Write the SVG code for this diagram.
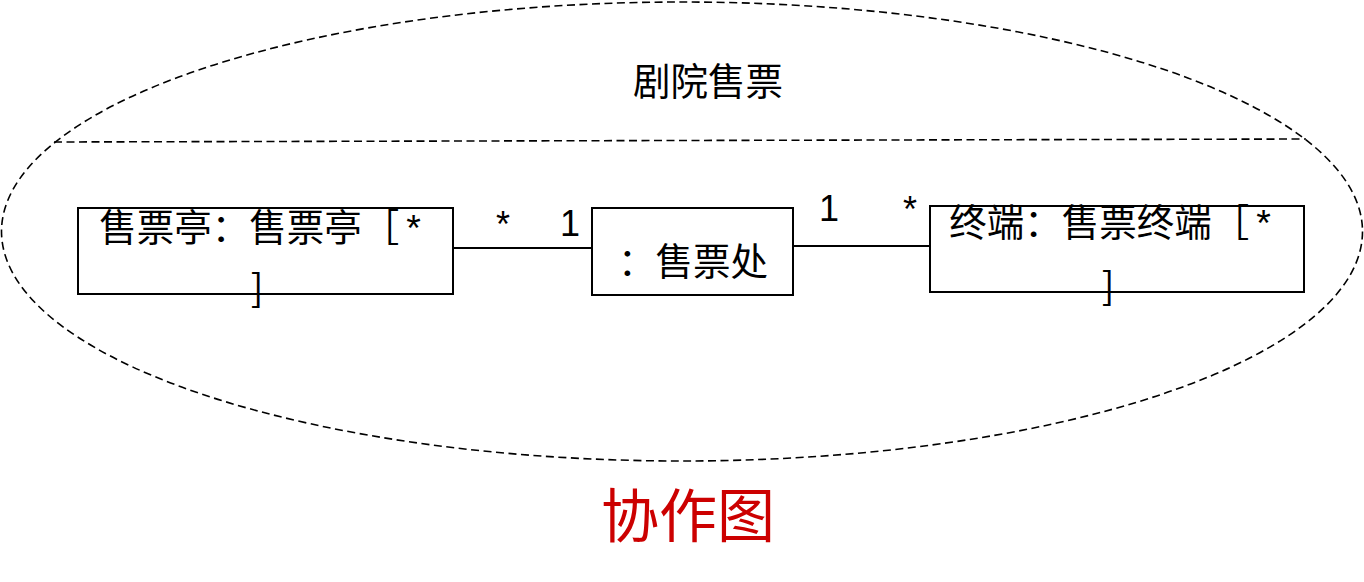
<svg xmlns="http://www.w3.org/2000/svg" width="1364" height="582" viewBox="0 0 1364 582">
<style>
text{font-family:"Noto Sans CJK SC","Liberation Sans",sans-serif;fill:#000}
.t{font-size:37.5px;text-anchor:middle}
.box{fill:#fff;stroke:#000;stroke-width:2}
.dash{fill:none;stroke:#000;stroke-width:1.6;stroke-dasharray:8 4.5}
.conn{stroke:#000;stroke-width:2;fill:none}
.m{font-family:"Liberation Sans",sans-serif;font-size:36px;text-anchor:middle}
.a{font-family:"Liberation Sans",sans-serif}
</style>
<rect width="1364" height="582" fill="#fff"/>
<g id="boundary">
<ellipse class="dash" cx="682" cy="231.5" rx="680.5" ry="229.5"/>
<line class="dash" x1="54" y1="142" x2="1306" y2="139"/>
<text class="t" x="708" y="95">剧院售票</text>
</g>
<g id="connectors">
<line class="conn" x1="453" y1="248" x2="592" y2="248"/>
<line class="conn" x1="793" y1="246" x2="930" y2="246"/>
<text class="m" x="503" y="237">*</text>
<text class="m" x="570" y="236">1</text>
<text class="m" x="829" y="221">1</text>
<text class="m" x="910" y="222">*</text>
</g>
<g id="node-kiosk">
<rect class="box" x="78" y="208" width="375" height="86"/>
<text class="t" x="260" y="241">售票亭：售票亭［<tspan class="a" dx="7">*</tspan></text>
<text class="t" x="257" y="302">]</text>
</g>
<g id="node-office">
<rect class="box" x="592" y="208" width="201" height="87"/>
<text class="t" x="693" y="275">：售票处</text>
</g>
<g id="node-terminal">
<rect class="box" x="930" y="206" width="374" height="86"/>
<text class="t" x="1110" y="236">终端：售票终端［<tspan class="a" dx="7">*</tspan></text>
<text class="t" x="1108" y="300">]</text>
</g>
<text x="688" y="537" style="font-size:58px;text-anchor:middle;fill:#cc0000">协作图</text>
</svg>
